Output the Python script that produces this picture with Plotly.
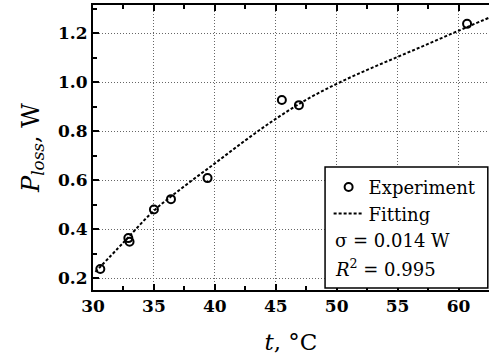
import plotly.graph_objects as go

# Experimental data
t_exp = [30.6, 32.9, 33.0, 35.0, 36.4, 39.4, 45.5, 46.9, 60.7]
p_exp = [0.237, 0.363, 0.348, 0.480, 0.522, 0.608, 0.927, 0.906, 1.238]

# Fitting curve
t_fit = [30.2, 32.5, 35.0, 37.5, 40.0, 42.5, 45.0, 47.5, 50.0, 52.5, 55.0, 57.5, 60.0, 62.5]
p_fit = [0.225, 0.345, 0.475, 0.575, 0.668, 0.762, 0.850, 0.928, 0.993, 1.050, 1.103, 1.156, 1.210, 1.263]

x_ticks = [30, 35, 40, 45, 50, 55, 60]
y_ticks = [0.2, 0.4, 0.6, 0.8, 1.0, 1.2]

SERIF = "DejaVu Serif"

fig = go.Figure()
fig.add_trace(go.Scatter(
    x=t_exp, y=p_exp, mode="markers", name="Experiment",
    marker=dict(symbol="circle-open", size=8, color="black", line=dict(width=2, color="black")),
))
fig.add_trace(go.Scatter(
    x=t_fit, y=p_fit, mode="lines", name="Fitting", line_shape="spline",
    line=dict(color="black", width=2, dash="3px,2px"),
))

axis_common = dict(
    showline=True, linecolor="black", linewidth=2,
    ticks="inside", ticklen=6, tickwidth=1.5, tickcolor="black",
    showgrid=True, gridcolor="#666666", griddash="1px,2px", gridwidth=1,
    zeroline=False,
    tickfont=dict(family=SERIF, size=17, color="black", weight="bold"),
)

fig.update_xaxes(
    range=[30, 62.5], tickvals=x_ticks, ticktext=[str(v) for v in x_ticks],
    mirror="ticks",
    minor=dict(ticks="inside", ticklen=4, tickwidth=1.5, tickcolor="black", dtick=2.5, showgrid=False),
    title=dict(text="<i>t</i>, °C", font=dict(family=SERIF, size=23, color="black"), standoff=18),
    **axis_common,
)
fig.update_yaxes(
    range=[0.151, 1.315], tickvals=y_ticks, ticktext=[f"{v:.1f}" for v in y_ticks],
    minor=dict(ticks="inside", ticklen=4, tickwidth=1.5, tickcolor="black", dtick=0.1, showgrid=False),
    title=dict(text="<i>P</i><sub><i>loss</i></sub>, W", font=dict(family=SERIF, size=24, color="black"), standoff=12),
    **axis_common,
)

# Legend frame
fig.add_shape(type="rect", xref="paper", yref="paper",
              x0=0.586, x1=0.997, y0=0.007, y1=0.432,
              line=dict(color="black", width=1.5), fillcolor="white", layer="above")

fig.add_annotation(xref="paper", yref="paper", x=0.605, y=(290 - 240) / 285,
                   xanchor="left", yanchor="middle", showarrow=False,
                   text="σ = 0.014 W", font=dict(family=SERIF, size=18, color="black"))
fig.add_annotation(xref="paper", yref="paper", x=0.605, y=(290 - 268) / 285,
                   xanchor="left", yanchor="middle", showarrow=False,
                   text="<i>R</i><sup>2</sup> = 0.995", font=dict(family=SERIF, size=18, color="black"))

fig.update_layout(
    width=489, height=360,
    margin=dict(l=93, r=0, t=5, b=70),
    plot_bgcolor="white", paper_bgcolor="white",
    showlegend=True,
    legend=dict(x=0.595, y=0.425, xanchor="left", yanchor="top",
                bgcolor="rgba(0,0,0,0)", borderwidth=0,
                font=dict(family=SERIF, size=18, color="black"),
                itemwidth=30, tracegroupgap=0),
)

fig.write_html("out.html")
